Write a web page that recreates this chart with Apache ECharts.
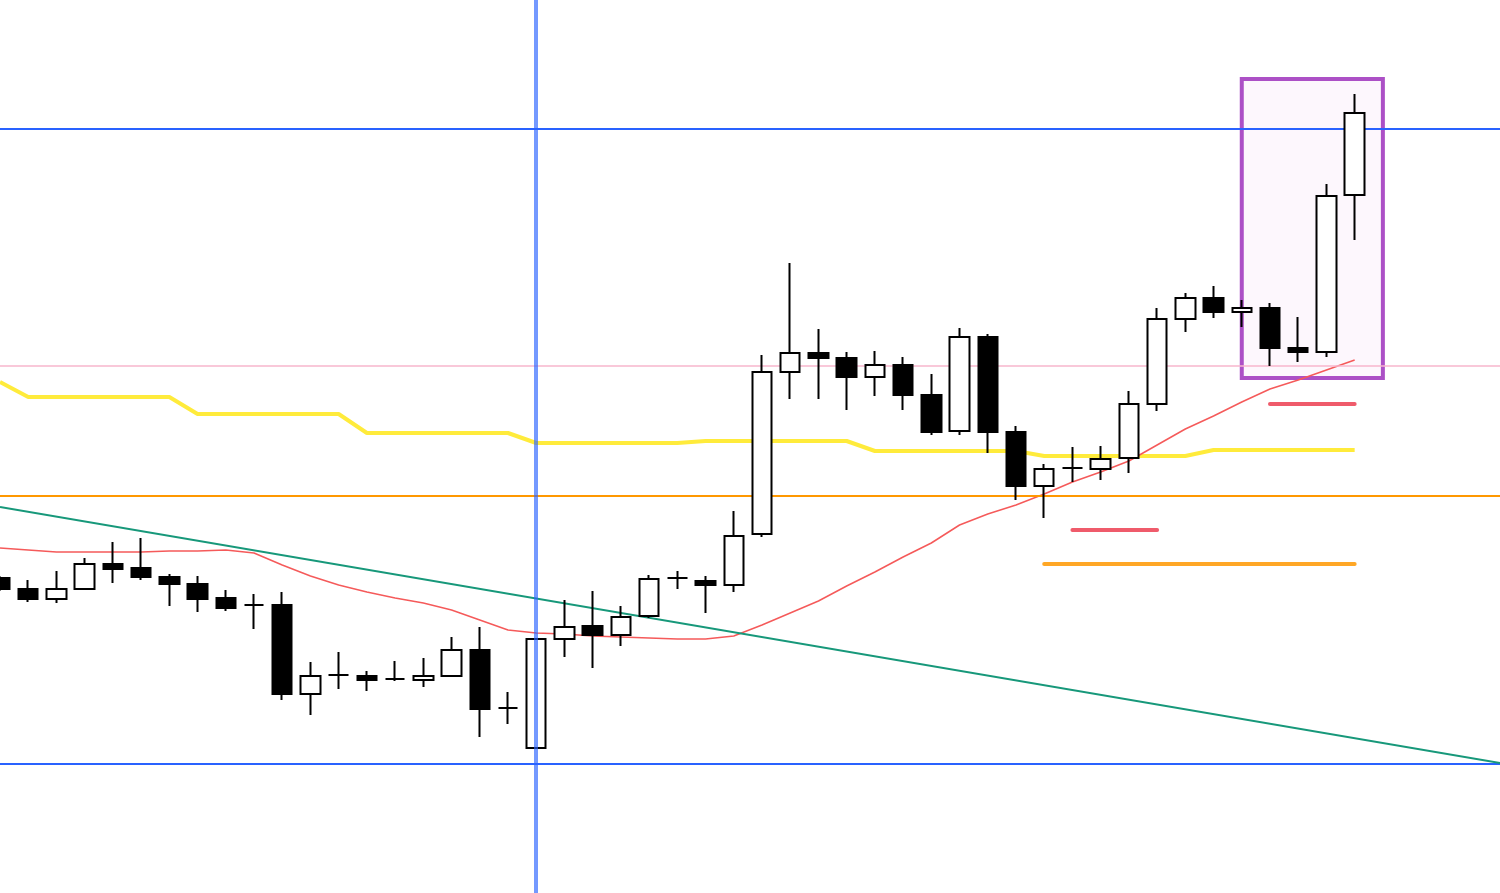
<!DOCTYPE html>
<html>
<head>
<meta charset="utf-8">
<script src="https://cdn.jsdelivr.net/npm/echarts@6/dist/echarts.min.js"></script>
<style>
  html, body { margin: 0; padding: 0; background: #ffffff; }
  #chart { width: 1500px; height: 893px; }
</style>
</head>
<body>
<div id="chart"></div>
<script>
// Bar index range visible on the x axis (49 candles + empty space on the right)
const xRange = [0, 53.15];

// Candles: [open, close, low, high], one per bar index
const candles = [
  [422, 411, 409, 424],
  [411, 401, 398, 420],
  [401, 411, 397, 429],
  [411, 436, 410, 442],
  [436, 431, 417, 458],
  [432, 423, 420, 462],
  [423, 416, 394, 426],
  [416, 401, 388, 424],
  [402, 392, 389, 410],
  [395, 395, 371, 406],
  [395, 306, 300, 408],
  [306, 324, 285, 338],
  [325, 325, 311, 348],
  [324, 320, 309, 329],
  [321, 321, 319, 339],
  [320, 324, 313, 342],
  [324, 350, 324, 363],
  [350, 291, 263, 373],
  [292, 292, 276, 308],
  [252, 361, 252, 361],
  [361, 373, 343, 400],
  [374, 365, 332, 409],
  [365, 383, 354, 394],
  [384, 421, 382, 425],
  [422, 422, 411, 429],
  [419, 415, 387, 424],
  [415, 464, 408, 489],
  [466, 628, 463, 645],
  [628, 647, 601, 737],
  [647, 642, 601, 671],
  [642, 623, 590, 648],
  [623, 635, 604, 649],
  [635, 605, 590, 643],
  [605, 568, 565, 626],
  [569, 663, 565, 672],
  [663, 568, 547, 666],
  [568, 514, 500, 574],
  [514, 531, 482, 536],
  [532, 532, 518, 553],
  [531, 541, 520, 554],
  [542, 596, 527, 609],
  [596, 681, 589, 692],
  [681, 702, 668, 707],
  [702, 688, 682, 714],
  [688, 692, 673, 700],
  [692, 652, 634, 697],
  [652, 648, 638, 683],
  [648, 804, 643, 816],
  [805, 887, 760, 906]
];

// Moving average (red)
const maLine = [452, 450, 448, 448, 448, 448, 449, 449, 450, 447,
  435, 424, 415, 408, 402, 397, 390, 380, 370, 367,
  366, 364, 363, 362, 361, 361, 364, 375, 387, 399,
  414, 428, 443, 457, 475, 486, 495, 506, 518, 528,
  539, 555, 571, 584, 598, 611, 620, 630, 640];

// Higher-timeframe step line (yellow)
const stepLine = [618, 603, 603, 603, 603, 603, 603, 586, 586, 586,
  586, 586, 586, 567, 567, 567, 567, 567, 567, 557,
  557, 557, 557, 557, 557, 559, 559, 559, 559, 559,
  559, 549, 549, 549, 549, 549, 549, 544, 544, 544,
  544, 544, 544, 550, 550, 550, 550, 550, 550];

// Horizontal levels
const blueLevels = [871, 236];
const pinkLevel = 634;
const orangeLevel = 504;

// Trend line (green): [bar index, value]
const trendLine = [[0, 493], [53.15, 237]];

// Vertical marker at bar index
const verticalMarkerIndex = 19;

// Short level segments: [startIndex, endIndex, value]
const redSegments = [[45, 48, 596], [38, 41, 470]];
const orangeSegments = [[37, 48, 436]];

// Highlighted box: [startIndex, endIndex, lowValue, highValue]
const highlightBox = [44, 49, 622, 921];

const candleData = candles.map((c, i) => [i, c[0], c[1], c[2], c[3]]);
const maData = maLine.map((v, i) => [i, v]);
const stepData = stepLine.map((v, i) => [i, v]);

const chart = echarts.init(document.getElementById('chart'), null, { renderer: 'canvas' });

const segLines = (segs, color) => segs.map(s => [
  { coord: [s[0], s[2]], lineStyle: { color: color, width: 4, cap: 'round', type: 'solid' } },
  { coord: [s[1], s[2]] }
]);

const option = {
  animation: false,
  backgroundColor: '#ffffff',
  grid: { left: 0, right: 0, top: 0, bottom: 0, containLabel: false },
  xAxis: {
    type: 'value',
    min: xRange[0],
    max: xRange[1],
    axisLine: { show: false },
    axisTick: { show: false },
    axisLabel: { show: false },
    splitLine: { show: false }
  },
  yAxis: {
    type: 'value',
    min: 107,
    max: 1000,
    axisLine: { show: false },
    axisTick: { show: false },
    axisLabel: { show: false },
    splitLine: { show: false }
  },
  series: [
    {
      name: 'box',
      type: 'line',
      data: [],
      markArea: {
        silent: true,
        itemStyle: { color: 'rgba(250,238,250,0.45)', borderColor: '#ac50c6', borderWidth: 4 },
        data: [[
          { coord: [highlightBox[0], highlightBox[3]] },
          { coord: [highlightBox[1], highlightBox[2]] }
        ]]
      }
    },
    {
      name: 'levels',
      type: 'line',
      data: [],
      markLine: {
        silent: true,
        symbol: ['none', 'none'],
        label: { show: false },
        data: [
          ...blueLevels.map(v => ({ yAxis: v, lineStyle: { color: '#2962ff', width: 2, type: 'solid' } })),
          { yAxis: pinkLevel, lineStyle: { color: '#f7b6cc', width: 1.5, type: 'solid' } },
          { yAxis: orangeLevel, lineStyle: { color: '#ff9800', width: 2, type: 'solid' } },
          [
            { coord: trendLine[0], lineStyle: { color: '#17987a', width: 2, type: 'solid' } },
            { coord: trendLine[1] }
          ],
          ...segLines(redSegments, '#ef5b6b'),
          ...segLines(orangeSegments, '#ffa726')
        ]
      }
    },
    {
      name: 'step',
      type: 'line',
      data: stepData,
      symbol: 'none',
      lineStyle: { color: '#ffeb3b', width: 4 },
      z: 3
    },
    {
      name: 'ma',
      type: 'line',
      data: maData,
      symbol: 'none',
      lineStyle: { color: '#f55a5a', width: 1.5 },
      z: 4
    },
    {
      name: 'price',
      type: 'candlestick',
      data: candleData,
      encode: { x: 0, y: [1, 2, 3, 4] },
      barWidth: 20,
      clip: false,
      z: 5,
      itemStyle: {
        color: '#ffffff',
        color0: '#000000',
        borderColor: '#000000',
        borderColor0: '#000000',
        borderWidth: 2
      }
    },
    {
      name: 'marker',
      type: 'line',
      data: [],
      z: 6,
      markLine: {
        silent: true,
        z: 6,
        symbol: ['none', 'none'],
        label: { show: false },
        data: [
          { xAxis: verticalMarkerIndex, lineStyle: { color: 'rgba(41,98,255,0.65)', width: 4, type: 'solid' } }
        ]
      }
    }
  ]
};

chart.setOption(option);
</script>
</body>
</html>
